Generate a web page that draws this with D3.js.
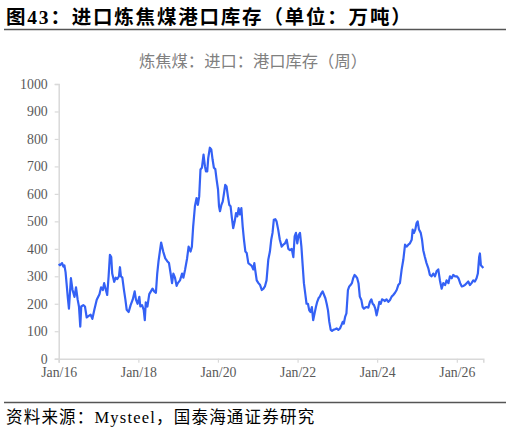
<!DOCTYPE html>
<html><head><meta charset="utf-8">
<script src="https://cdn.jsdelivr.net/npm/d3@7/dist/d3.min.js"></script>
<style>body{margin:0;background:#fff}svg{display:block}</style>
</head><body>
<script>
const titleText = "图43：进口炼焦煤港口库存（单位：万吨）";
const subtitleText = "炼焦煤：进口：港口库存（周）";
const sourceText = "资料来源：Mysteel，国泰海通证券研究";
const yTicks = [0,100,200,300,400,500,600,700,800,900,1000];
const xTickDates = ["2016-01-01","2018-01-01","2020-01-01","2022-01-01","2024-01-01","2026-01-01"];
const dates = [
"2016-01-01","2016-01-13","2016-02-01","2016-02-13","2016-02-22","2016-03-04","2016-03-13","2016-03-25","2016-04-04","2016-04-22",
"2016-05-07","2016-05-25","2016-06-08","2016-06-23","2016-07-05","2016-07-17","2016-07-26","2016-08-14","2016-08-29","2016-09-14",
"2016-09-29","2016-10-20","2016-11-05","2016-11-23","2016-12-15","2017-01-09","2017-01-24","2017-02-09","2017-02-21","2017-03-09",
"2017-03-21","2017-04-03","2017-04-15","2017-04-27","2017-05-06","2017-05-24","2017-06-07","2017-06-22","2017-07-07","2017-07-16",
"2017-07-25","2017-08-07","2017-08-22","2017-09-04","2017-09-16","2017-10-04","2017-10-22","2017-11-10","2017-11-28","2017-12-10",
"2017-12-25","2018-01-10","2018-01-19","2018-02-04","2018-02-19","2018-03-01","2018-03-10","2018-03-25","2018-04-11","2018-04-26",
"2018-05-11","2018-05-26","2018-06-11","2018-06-23","2018-07-05","2018-07-17","2018-07-29","2018-08-17","2018-09-05","2018-09-23",
"2018-10-09","2018-10-24","2018-11-06","2018-11-18","2018-12-03","2018-12-18","2018-12-29","2019-01-18","2019-02-06","2019-02-18",
"2019-03-06","2019-03-24","2019-04-07","2019-04-25","2019-05-07","2019-05-19","2019-06-04","2019-06-19","2019-07-01","2019-07-13",
"2019-07-25","2019-08-07","2019-08-22","2019-09-04","2019-09-13","2019-09-25","2019-10-04","2019-10-19","2019-11-01","2019-11-13",
"2019-11-25","2019-12-08","2019-12-20","2020-01-02","2020-01-11","2020-01-20","2020-02-02","2020-02-14","2020-02-26","2020-03-08",
"2020-03-20","2020-04-02","2020-04-14","2020-04-26","2020-05-08","2020-05-20","2020-06-03","2020-06-15","2020-06-27","2020-07-09",
"2020-07-21","2020-08-03","2020-08-15","2020-08-27","2020-09-09","2020-09-21","2020-10-06","2020-10-21","2020-11-06","2020-11-21",
"2020-11-30","2020-12-10","2020-12-22","2021-01-07","2021-01-22","2021-02-07","2021-02-22","2021-03-07","2021-03-22","2021-04-07",
"2021-04-22","2021-05-04","2021-05-16","2021-05-28","2021-06-10","2021-06-22","2021-07-07","2021-07-22","2021-08-08","2021-08-23",
"2021-09-08","2021-09-23","2021-10-08","2021-10-23","2021-11-08","2021-11-23","2021-12-05","2021-12-17","2021-12-29","2022-01-11",
"2022-01-23","2022-02-05","2022-02-17","2022-02-28","2022-03-12","2022-03-24","2022-04-06","2022-04-18","2022-04-30","2022-05-12",
"2022-05-24","2022-06-06","2022-06-18","2022-06-30","2022-07-12","2022-07-24","2022-08-07","2022-08-19","2022-09-01","2022-09-13",
"2022-09-25","2022-10-07","2022-10-19","2022-11-01","2022-11-13","2022-11-25","2022-12-10","2022-12-25","2023-01-10","2023-01-25",
"2023-02-07","2023-02-19","2023-03-01","2023-03-13","2023-03-25","2023-04-08","2023-04-20","2023-05-02","2023-05-14","2023-05-26",
"2023-06-08","2023-06-20","2023-07-02","2023-07-14","2023-07-26","2023-08-09","2023-08-21","2023-09-02","2023-09-14","2023-09-26",
"2023-10-12","2023-10-27","2023-11-09","2023-11-21","2023-12-03","2023-12-15","2023-12-27","2024-01-09","2024-01-21","2024-02-03",
"2024-02-15","2024-02-27","2024-03-12","2024-03-27","2024-04-13","2024-04-28","2024-05-13","2024-05-28","2024-06-13","2024-06-28",
"2024-07-13","2024-07-28","2024-08-13","2024-08-28","2024-09-13","2024-09-28","2024-10-13","2024-10-28","2024-11-13","2024-11-22",
"2024-12-04","2024-12-16","2024-12-28","2025-01-07","2025-01-19","2025-02-04","2025-02-16","2025-02-27","2025-03-14","2025-03-29",
"2025-04-14","2025-04-29","2025-05-15","2025-05-30","2025-06-15","2025-06-29","2025-07-15","2025-07-30","2025-08-15","2025-08-30",
"2025-09-15","2025-09-29","2025-10-16","2025-10-30","2025-11-15","2025-11-29","2025-12-16","2026-01-01","2026-01-16","2026-02-01",
"2026-02-16","2026-03-01","2026-03-16","2026-04-01","2026-04-16","2026-05-01","2026-05-16","2026-06-01","2026-06-16","2026-07-01",
"2026-07-13","2026-07-25","2026-08-01","2026-08-10","2026-08-22","2026-09-01"
];
const values = [
345,340,348,335,340,315,275,220,182,293,
250,225,260,215,190,117,190,195,190,150,
155,160,145,178,215,235,260,250,275,250,
232,300,378,370,310,280,295,290,300,333,
300,295,250,215,178,170,195,215,245,215,
200,225,190,195,178,140,205,190,235,245,
255,245,240,310,355,390,423,390,365,355,
348,310,275,310,295,265,275,285,310,295,
325,365,408,390,408,482,555,585,560,590,
689,695,743,700,682,682,730,768,762,725,
695,690,652,616,555,537,560,572,603,633,
627,590,560,555,513,475,500,530,518,548,
525,548,482,433,390,385,348,343,338,325,
348,318,285,275,268,250,255,263,285,360,
390,433,458,506,508,500,470,433,408,415,
420,433,400,395,400,370,445,458,420,450,
458,408,338,275,238,200,200,176,170,188,
140,165,188,207,220,226,238,245,232,220,
200,176,134,105,101,105,107,110,105,110,
122,134,128,152,165,250,263,268,275,293,
305,300,293,275,226,214,188,182,186,188,
186,207,216,200,195,182,158,182,207,200,
216,214,210,216,207,214,226,232,240,250,
268,275,325,360,415,408,415,420,433,470,
458,470,494,500,470,458,433,395,370,348,
330,305,300,310,300,318,325,285,255,275,
268,285,275,300,293,305,300,300,293,275,
263,265,268,275,281,268,275,285,281,293,
310,370,383,340,335,330
];

const W = 510, H = 432;
const svg = d3.select("body").append("svg").attr("width", W).attr("height", H);
const serif = "'Liberation Serif','Noto Sans CJK SC',serif";
const cjk = "'Noto Sans CJK SC',sans-serif";

// Title
svg.append("text").attr("x", 6).attr("y", 24)
  .attr("font-family", serif)
  .attr("font-weight", "bold").attr("font-size", 19.5).attr("letter-spacing", 1.8).attr("fill", "#000")
  .text(titleText);
svg.append("line").attr("x1", 4).attr("x2", 506).attr("y1", 29.5).attr("y2", 29.5)
  .attr("stroke", "#555").attr("stroke-width", 1.5);

// Subtitle
svg.append("text").attr("x", 253).attr("y", 67).attr("text-anchor", "middle")
  .attr("font-family", cjk).attr("font-size", 16.3).attr("fill", "#808080")
  .text(subtitleText);

const m = {left: 58.7, right: 483.3, top: 84, bottom: 358.7};
const parse = d3.timeParse("%Y-%m-%d");
const x = d3.scaleTime()
  .domain([parse("2016-01-01"), parse("2026-09-01")])
  .range([m.left, m.right]);
const y = d3.scaleLinear().domain([0, 1000]).range([m.bottom, m.top]);

const fmt = d3.timeFormat("%b/%y");
const xAxis = svg.append("g").attr("transform", `translate(0,${m.bottom})`)
  .call(d3.axisBottom(x).tickValues(xTickDates.map(parse)).tickFormat(fmt).tickSizeOuter(0).tickSize(4).tickPadding(5));
const yAxis = svg.append("g").attr("transform", `translate(${m.left},0)`)
  .call(d3.axisLeft(y).tickValues(yTicks).tickFormat(d3.format("d")).tickSizeOuter(0).tickSize(4).tickPadding(7));
[xAxis, yAxis].forEach(g => {
  g.select(".domain").attr("stroke", "#d9d9d9").attr("stroke-width", 1.5);
  g.selectAll(".tick line").attr("stroke", "#d9d9d9").attr("stroke-width", 1.2);
  g.selectAll(".tick text").attr("fill", "#595959").attr("font-family", serif).attr("font-size", 13.8);
});

const pts = dates.map((d, i) => [parse(d), values[i]]);
svg.append("path").datum(pts)
  .attr("fill", "none").attr("stroke", "#3461f5").attr("stroke-width", 2.2)
  .attr("stroke-linejoin", "round")
  .attr("d", d3.line().x(d => x(d[0])).y(d => y(d[1])));

// Source
svg.append("line").attr("x1", 4).attr("x2", 506).attr("y1", 402.5).attr("y2", 402.5)
  .attr("stroke", "#555").attr("stroke-width", 1.5);
svg.append("text").attr("x", 6).attr("y", 423)
  .attr("font-family", serif).attr("font-size", 16.5).attr("letter-spacing", 1.2).attr("fill", "#000")
  .text(sourceText);
</script>
</body></html>
